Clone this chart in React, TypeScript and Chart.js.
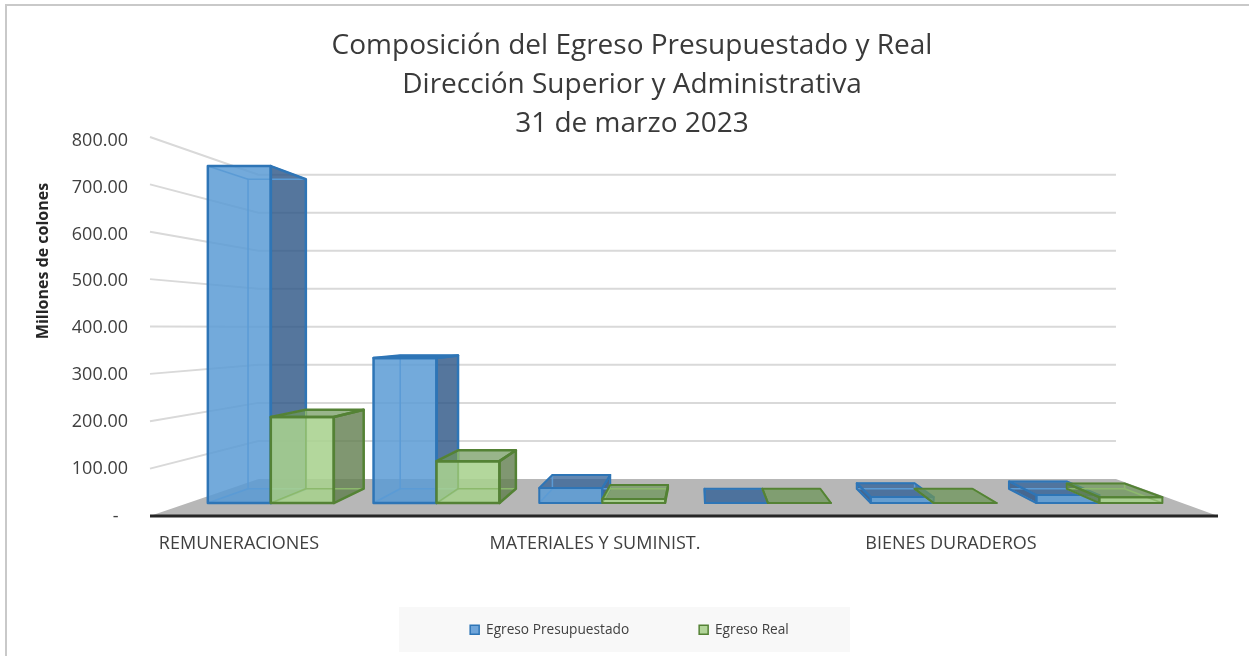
import React, { useEffect, useRef } from "react";
import { Chart, registerables } from "chart.js";

Chart.register(...registerables);

const categories = ["REMUNERACIONES", "", "MATERIALES Y SUMINIST.", "", "BIENES DURADEROS", ""];
const egresoPresupuestado = [764, 329, 34, 0, 13.5, 18];
const egresoReal = [195, 95, 9, 0, 0, 13];
const titleLines = [
  "Composición del Egreso Presupuestado y Real",
  "Dirección Superior y Administrativa",
  "31 de marzo 2023",
];
const seriesNames = ["Egreso Presupuestado", "Egreso Real"];
const yAxisTitle = "Millones de colones";

const FONT = '"Open Sans", sans-serif';
const TEXT = "#404040";
const VP = { x: 700, y: 328 };
const T_BACK = 0.197;
const T_BAR_FRONT = 0.069;
const T_BAR_BACK = 0.145;

const project = (x: number, y: number, t: number): [number, number] => [
  x + (VP.x - x) * t,
  y + (VP.y - y) * t,
];

const poly = (ctx: CanvasRenderingContext2D, pts: [number, number][], fill?: string, stroke?: string, lw = 2) => {
  ctx.beginPath();
  pts.forEach((p, i) => (i ? ctx.lineTo(p[0], p[1]) : ctx.moveTo(p[0], p[1])));
  ctx.closePath();
  if (fill) {
    ctx.fillStyle = fill;
    ctx.fill();
  }
  if (stroke) {
    ctx.strokeStyle = stroke;
    ctx.lineWidth = lw;
    ctx.lineJoin = "round";
    ctx.stroke();
  }
};

const palettes = [
  {
    front: "rgba(91,155,213,0.85)",
    side: "rgba(47,88,135,0.82)",
    top: "rgba(47,95,150,0.75)",
    floor: "rgba(60,110,170,0.12)",
    edge: "#2e75b6",
    inner: "#5b9bd5",
  },
  {
    front: "rgba(169,209,142,0.88)",
    side: "rgba(100,128,82,0.82)",
    top: "rgba(110,150,90,0.7)",
    floor: "rgba(100,140,70,0.12)",
    edge: "#548235",
    inner: "#8cb96c",
  },
];

const draw3D = {
  id: "draw3D",
  beforeDraw(chart: any) {
    const { ctx } = chart;
    ctx.save();
    ctx.fillStyle = "#ffffff";
    ctx.fillRect(0, 0, chart.width, chart.height);
    ctx.strokeStyle = "#c9c9c9";
    ctx.lineWidth = 2;
    ctx.beginPath();
    ctx.moveTo(6, chart.height);
    ctx.lineTo(6, 5);
    ctx.lineTo(chart.width, 5);
    ctx.stroke();
    ctx.fillStyle = "#f8f8f8";
    ctx.fillRect(399, 607, 451, 45);
    // rotated value-axis title
    ctx.translate(43, 261);
    ctx.rotate(-Math.PI / 2);
    ctx.fillStyle = "#262626";
    ctx.font = `bold 16px ${FONT}`;
    ctx.textAlign = "center";
    ctx.textBaseline = "middle";
    ctx.fillText(yAxisTitle, 0, 0);
    ctx.restore();
  },
  afterLayout(chart: any) {
    const t = chart.titleBlock;
    t.top += 7;
    t.bottom += 7;
    t.left += 13;
    t.right += 13;
    const l = chart.legend;
    l.top = 553;
    l.left += 10.5;
    l.right += 10.5;
  },
  beforeDatasetsDraw(chart: any) {
    const { ctx, chartArea } = chart;
    const ys = chart.scales.y;
    const { left, right, bottom } = chartArea;
    ctx.save();
    // floor
    poly(
      ctx,
      [project(left, bottom, 0), project(right, bottom, 0), project(right, bottom, T_BACK), project(left, bottom, T_BACK)],
      "#b7b7b7"
    );
    // wall gridlines
    ctx.lineWidth = 2;
    ctx.strokeStyle = "#d9d9d9";
    ys.ticks.forEach((tick: any) => {
      if (tick.value === 0) return;
      const y = ys.getPixelForValue(tick.value);
      const a = project(left, y, 0);
      const b = project(left, y, T_BACK);
      const c = project(right, y, T_BACK);
      ctx.beginPath();
      ctx.moveTo(a[0], a[1]);
      ctx.lineTo(b[0], b[1]);
      ctx.lineTo(c[0], c[1]);
      ctx.stroke();
    });
    // bars
    categories.forEach((_, j) => {
      chart.data.datasets.forEach((_d: any, i: number) => {
        const el = chart.getDatasetMeta(i).data[j];
        const { x, y, base, width } = el.getProps(["x", "y", "base", "width"], true);
        const pal = palettes[i];
        const xl = x - width / 2;
        const xr = x + width / 2;
        const fbl = project(xl, base, T_BAR_FRONT);
        const fbr = project(xr, base, T_BAR_FRONT);
        const ftl = project(xl, y, T_BAR_FRONT);
        const ftr = project(xr, y, T_BAR_FRONT);
        const bbl = project(xl, base, T_BAR_BACK);
        const bbr = project(xr, base, T_BAR_BACK);
        const btl = project(xl, y, T_BAR_BACK);
        const btr = project(xr, y, T_BAR_BACK);
        const leftFaceVisible = bbl[0] < fbl[0];
        const rightFaceVisible = bbr[0] > fbr[0];
        const topVisible = btl[1] < ftl[1];
        const edgeW = ftl[1] > fbl[1] - 20 ? 2 : 2.5;

        poly(ctx, [fbl, fbr, bbr, bbl], pal.floor);
        if (rightFaceVisible) poly(ctx, [fbr, ftr, btr, bbr], pal.side);
        if (leftFaceVisible) poly(ctx, [fbl, ftl, btl, bbl], pal.side);
        if (topVisible) poly(ctx, [ftl, ftr, btr, btl], pal.top);
        poly(ctx, [fbl, fbr, ftr, ftl], pal.front);

        // hidden edges seen through the glass
        poly(ctx, [bbl, bbr, btr, btl], undefined, pal.inner, 1.5);
        ctx.strokeStyle = pal.inner;
        ctx.lineWidth = 1.5;
        [[fbl, bbl], [fbr, bbr], [ftl, btl], [ftr, btr]].forEach(([a, b]) => {
          ctx.beginPath();
          ctx.moveTo(a[0], a[1]);
          ctx.lineTo(b[0], b[1]);
          ctx.stroke();
        });

        // visible edges
        if (rightFaceVisible) poly(ctx, [fbr, ftr, btr, bbr], undefined, pal.edge, edgeW);
        if (leftFaceVisible) poly(ctx, [fbl, ftl, btl, bbl], undefined, pal.edge, edgeW);
        if (topVisible) poly(ctx, [ftl, ftr, btr, btl], undefined, pal.edge, edgeW);
        poly(ctx, [fbl, fbr, ftr, ftl], undefined, pal.edge, edgeW);
      });
    });
    // front axis line
    ctx.strokeStyle = "#262626";
    ctx.lineWidth = 3;
    ctx.beginPath();
    ctx.moveTo(left, bottom);
    ctx.lineTo(right, bottom);
    ctx.stroke();
    ctx.restore();
    return false;
  },
};

export default function App() {
  const ref = useRef<HTMLCanvasElement>(null);
  useEffect(() => {
    const chart = new Chart(ref.current as HTMLCanvasElement, {
      type: "bar",
      data: {
        labels: categories,
        datasets: [
          {
            label: seriesNames[0],
            data: egresoPresupuestado,
            backgroundColor: "#6fa5da",
            borderColor: "#2e75b6",
            borderWidth: 1.5,
          },
          {
            label: seriesNames[1],
            data: egresoReal,
            backgroundColor: "#b2d599",
            borderColor: "#548235",
            borderWidth: 1.5,
          },
        ],
      },
      options: {
        responsive: false,
        animation: false,
        devicePixelRatio: 1,
        layout: { padding: { left: 20, right: 31, top: 20, bottom: 6.3 } },
        datasets: { bar: { categoryPercentage: 0.76, barPercentage: 1 } },
        plugins: {
          tooltip: { enabled: false },
          title: {
            display: true,
            text: titleLines,
            color: "#3a3a3a",
            padding: 0,
            font: { family: FONT, size: 28, weight: "normal", lineHeight: 39 / 28 },
          },
          legend: {
            display: true,
            position: "bottom",
            labels: {
              boxWidth: 9,
              boxHeight: 9,
              padding: 70,
              color: TEXT,
              font: { family: FONT, size: 13.7 },
            },
          },
        },
        scales: {
          x: {
            afterFit(s: any) {
              s.height = 40;
            },
            grid: { display: false, drawTicks: false },
            border: { display: false },
            ticks: {
              autoSkip: false,
              maxRotation: 0,
              padding: 17,
              color: TEXT,
              font: { family: FONT, size: 18 },
            },
          },
          y: {
            min: 0,
            max: 800,
            afterFit(s: any) {
              s.width = 130;
            },
            grid: { display: false, drawTicks: false },
            border: { display: false },
            ticks: {
              stepSize: 100,
              padding: 22,
              color: TEXT,
              font: (c: any) => {
                const v = c.tick ? c.tick.value : 0;
                const shift = v === 0 ? 1 : (3.5 * v) / 800;
                return { family: FONT, size: 18, lineHeight: (2 * shift) / 18 };
              },
              callback: (v: any) => ["", Number(v) === 0 ? "-\u00a0\u00a0" : Number(v).toFixed(2)],
            },
          },
        },
      } as any,
      plugins: [draw3D as any],
    });
    return () => chart.destroy();
  }, []);
  return (
    <canvas
      ref={ref}
      width={1249}
      height={656}
      style={{ position: "fixed", left: 0, top: 0, display: "block" }}
    />
  );
}
